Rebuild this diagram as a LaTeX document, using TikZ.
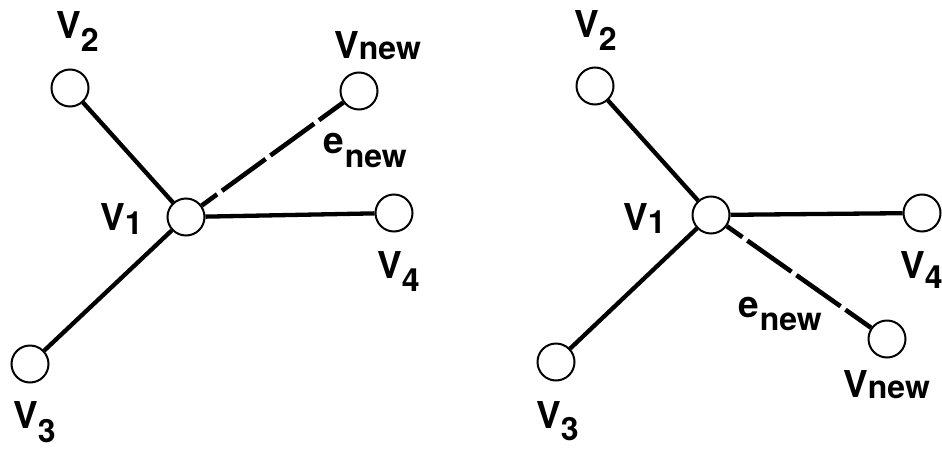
\documentclass[tikz,border=0pt]{standalone}
\usepackage{fontspec}
\setmainfont{TeX Gyre Heros}
\newcommand\lbl[4]{#1\kern#2pt\raisebox{-#3pt}{\fontsize{32}{32}\selectfont #4}}
\begin{document}
\begin{tikzpicture}[x=1pt,y=-1pt,
  vtx/.style={circle,draw,line width=2pt,minimum size=37pt,inner sep=0pt,fill=white},
  edge/.style={line width=4.3pt},
  newedge/.style={line width=4.6pt,dash pattern=on 54pt off 6pt,dash phase=35pt},
  lab/.style={anchor=base west,inner sep=0pt,font=\fontsize{37}{37}\selectfont\bfseries}]
\useasboundingbox (0,0) rectangle (942,450);
% left graph
\node[vtx] (a1) at (186,217) {};
\node[vtx] (a2) at (70,88) {};
\node[vtx] (a3) at (30,364) {};
\node[vtx] (a4) at (394,213) {};
\node[vtx] (an) at (359,91) {};
\draw[edge] (a1) -- (a2);
\draw[edge] (a1) -- (a3);
\draw[edge] (a1) -- (a4);
\draw[newedge] (a1) -- (an);
\node[lab] (la2) at (56,38) {\lbl{V}{0}{13}{2}};
\node[lab] (lan) at (334,58) {\lbl{V}{0}{1}{new}};
\node[lab] (lae) at (323,153) {\lbl{e}{1}{14}{new}};
\node[lab] (la1) at (100,230) {\lbl{V}{0}{4}{1}};
\node[lab] (la4) at (377,278) {\lbl{V}{0}{13}{4}};
\node[lab] (la3) at (13,428) {\lbl{V}{0}{14}{3}};
% right graph
\node[vtx] (b1) at (711,215) {};
\node[vtx] (b2) at (595,86) {};
\node[vtx] (b3) at (556,362) {};
\node[vtx] (b4) at (922,213) {};
\node[vtx] (bn) at (887,339) {};
\draw[edge] (b1) -- (b2);
\draw[edge] (b1) -- (b3);
\draw[edge] (b1) -- (b4);
\draw[newedge] (b1) -- (bn);
\node[lab] (lb2) at (574,37) {\lbl{V}{0}{13}{2}};
\node[lab] (lb1) at (623,230) {\lbl{V}{0}{3}{1}};
\node[lab] (lb4) at (900,278) {\lbl{V}{0}{10}{4}};
\node[lab] (lbe) at (738,317) {\lbl{e}{1}{13}{new}};
\node[lab] (lbn) at (843,397) {\lbl{V}{0}{1}{new}};
\node[lab] (lb3) at (536,428) {\lbl{V}{0}{12}{3}};
\end{tikzpicture}
\end{document}
